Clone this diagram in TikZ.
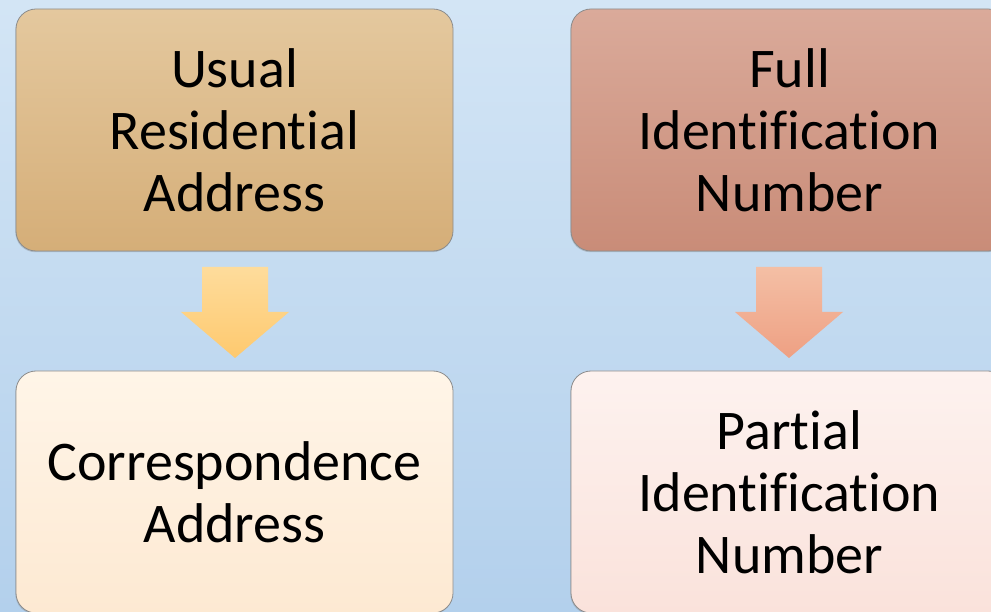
\documentclass[tikz,border=0pt]{standalone}
\usepackage{fontspec}
\setmainfont{Carlito}[Ligatures=NoCommon]
\usetikzlibrary{shadows,calc}
\definecolor{bgtop}{HTML}{D3E5F5}
\definecolor{bgbot}{HTML}{B3D0EC}
\definecolor{tlA}{HTML}{E4C89E}
\definecolor{tlB}{HTML}{D5AE78}
\definecolor{trA}{HTML}{DAAA9A}
\definecolor{trB}{HTML}{C98C78}
\definecolor{blA}{HTML}{FFF5E8}
\definecolor{blB}{HTML}{FDE9D2}
\definecolor{brA}{HTML}{FDF2EF}
\definecolor{brB}{HTML}{FAE2DB}
\definecolor{laA}{HTML}{FEDC9C}
\definecolor{laB}{HTML}{FEC96E}
\definecolor{raA}{HTML}{F4BFA5}
\definecolor{raB}{HTML}{EEA083}
\tikzset{
  card/.style={draw=black!45, line width=0.8pt, rounded corners=20pt,
    minimum width=437pt, minimum height=242pt, inner sep=0pt,
    align=center, text width=430pt,
    font=\fontsize{56}{62}\selectfont,
    drop shadow={shadow xshift=-0.6pt, shadow yshift=-1.2pt, opacity=0.35}},
}
\begin{document}
\begin{tikzpicture}[x=1pt,y=-1pt]
\useasboundingbox (0,0) rectangle (991,612);
\shade[top color=bgtop, bottom color=bgbot] (0,0) rectangle (991,612);
\clip (0,0) rectangle (991,612);
\node[card, top color=tlA, bottom color=tlB] (ura) at (234.5,130) {Usual\\Residential\\Address};
\node[card, top color=trA, bottom color=trB] (fin) at (789.5,130) {Full\\Identification\\Number};
\node[card, top color=blA, bottom color=blB] (ca) at (234.5,492) {Correspondence\\Address};
\node[card, top color=brA, bottom color=brB] (pin) at (789.5,492) {Partial\\Identification\\Number};
% block arrows
\coordinate (la) at (235,267);
\coordinate (ra) at (789,267);
\shade[top color=laA, bottom color=laB]
  ($(la)+(-33,0)$) -- ++(66,0) -- ++(0,45) -- ++(21,0) -- ($(la)+(0,91)$)
  -- ($(la)+(-54,45)$) -- ++(21,0) -- cycle;
\shade[top color=raA, bottom color=raB]
  ($(ra)+(-33,0)$) -- ++(66,0) -- ++(0,45) -- ++(21,0) -- ($(ra)+(0,91)$)
  -- ($(ra)+(-54,45)$) -- ++(21,0) -- cycle;
\end{tikzpicture}
\end{document}
